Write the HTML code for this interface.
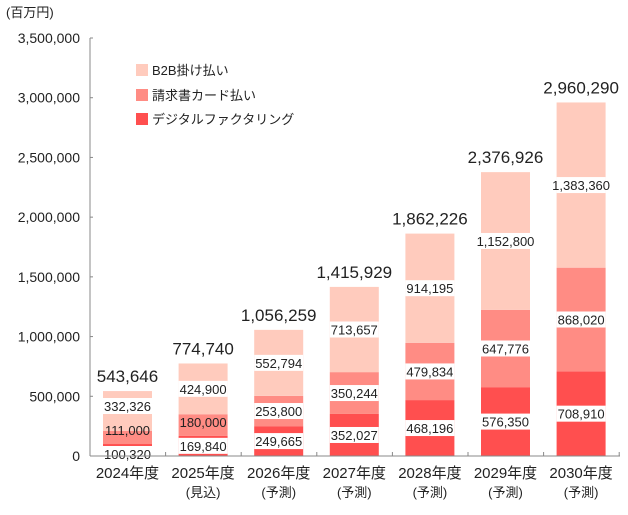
<!DOCTYPE html>
<html><head><meta charset="utf-8">
<style>
html,body{margin:0;padding:0;background:#fff;}
svg{display:block;font-family:"Liberation Sans","Noto Sans CJK JP",sans-serif;}
</style></head>
<body>
<svg id="chart" width="628" height="515" viewBox="0 0 628 515">
<text x="6" y="17" font-size="13" fill="#222">(百万円)</text>
<g id="yaxis"></g>
<g id="bars"></g>
<g id="labels"></g>
<g id="xaxis"></g>
<g>
 <g><rect x="136" y="64" width="12" height="12" fill="#ffcbbd"/><text x="152" y="75" font-size="13" fill="#222">B2B掛け払い</text></g>
 <g><rect x="136" y="89" width="12" height="12" fill="#ff8c84"/><text x="152" y="100" font-size="13" fill="#222">請求書カード払い</text></g>
 <g><rect x="136" y="113" width="12" height="12" fill="#ff4f4f"/><text x="152" y="124" font-size="13" fill="#222">デジタルファクタリング</text></g>
</g>
</svg>
<script>
const years = ["2024年度","2025年度","2026年度","2027年度","2028年度","2029年度","2030年度"];
const subLabels = ["","(見込)","(予測)","(予測)","(予測)","(予測)","(予測)"];
const factoring = [100320,169840,249665,352027,468196,576350,708910];
const invoice = [111000,180000,253800,350244,479834,647776,868020];
const b2b = [332326,424900,552794,713657,914195,1152800,1383360];
const totals = [543646,774740,1056259,1415929,1862226,2376926,2960290];
const yTicks = [0,500000,1000000,1500000,2000000,2500000,3000000,3500000];

const NS="http://www.w3.org/2000/svg";
const y0=456, yTop=38, yMax=3500000, x0=90, step=75.6, firstC=127.5, bw=49;
const y=v=>y0-(v/yMax)*(y0-yTop);
const xc=i=>firstC+i*step;
const fmt=v=>v.toLocaleString("en-US");
function mk(tag,attrs,parent,txt){const e=document.createElementNS(NS,tag);for(const k in attrs)e.setAttribute(k,attrs[k]);if(txt!==undefined)e.textContent=txt;parent.appendChild(e);return e;}
const ya=document.getElementById("yaxis"), bars=document.getElementById("bars"), lab=document.getElementById("labels"), xa=document.getElementById("xaxis");
mk("line",{x1:x0,y1:yTop,x2:x0,y2:y0,stroke:"#888","stroke-width":1},ya);
yTicks.forEach(t=>{
 mk("line",{x1:x0,y1:y(t),x2:x0+3,y2:y(t),stroke:"#888"},ya);
 const tx=mk("text",{x:80,y:y(t)+5,"text-anchor":"end","font-size":14,fill:"#222"},ya,fmt(t));
 
 
});
mk("line",{x1:x0,y1:y0,x2:620,y2:y0,stroke:"#888"},xa);
for(let i=0;i<=years.length;i++){const bx=x0+i*step;mk("line",{x1:bx,y1:y0-4,x2:bx,y2:y0,stroke:"#888"},xa);}
const series=[{d:factoring,c:"#ff4f4f",n:"factoring"},{d:invoice,c:"#ff8c84",n:"invoice"},{d:b2b,c:"#ffcbbd",n:"b2b"}];
years.forEach((yr,i)=>{
 let base=0, prev=null;
 series.forEach(s=>{
  const v=s.d[i];
  const top=y(base+v), bot=y(base);
  const r=mk("rect",{x:xc(i)-bw/2,y:top,width:bw,height:bot-top,fill:s.c},bars);
  
  
  let mid=(top+bot)/2;
  if(prev===null){ if(bot-top<18) mid=y0-2; }
  else mid=Math.min(mid,prev-24);
  prev=mid;
  const noBg=(s.n==="invoice"&&i<2);
  if(!noBg) mk("rect",{x:xc(i)-bw/2,y:mid-8,width:bw,height:16,fill:"#fff"},lab);
  const t=mk("text",{x:xc(i),y:mid+5,"text-anchor":"middle","font-size":13,fill:"#222"},lab,fmt(v));
  
  
  base+=v;
 });
 const tt=mk("text",{x:xc(i),y:y(base)-9,"text-anchor":"middle","font-size":17,fill:"#222"},lab,fmt(totals[i]));
 
 
 const xl=mk("text",{x:xc(i),y:478,"text-anchor":"middle","font-size":15,fill:"#222"},xa,yr);
 
 
 if(subLabels[i]){const sl=mk("text",{x:xc(i),y:497,"text-anchor":"middle","font-size":13,fill:"#222"},xa,subLabels[i]);
 
 }
});
</script>
</body></html>
